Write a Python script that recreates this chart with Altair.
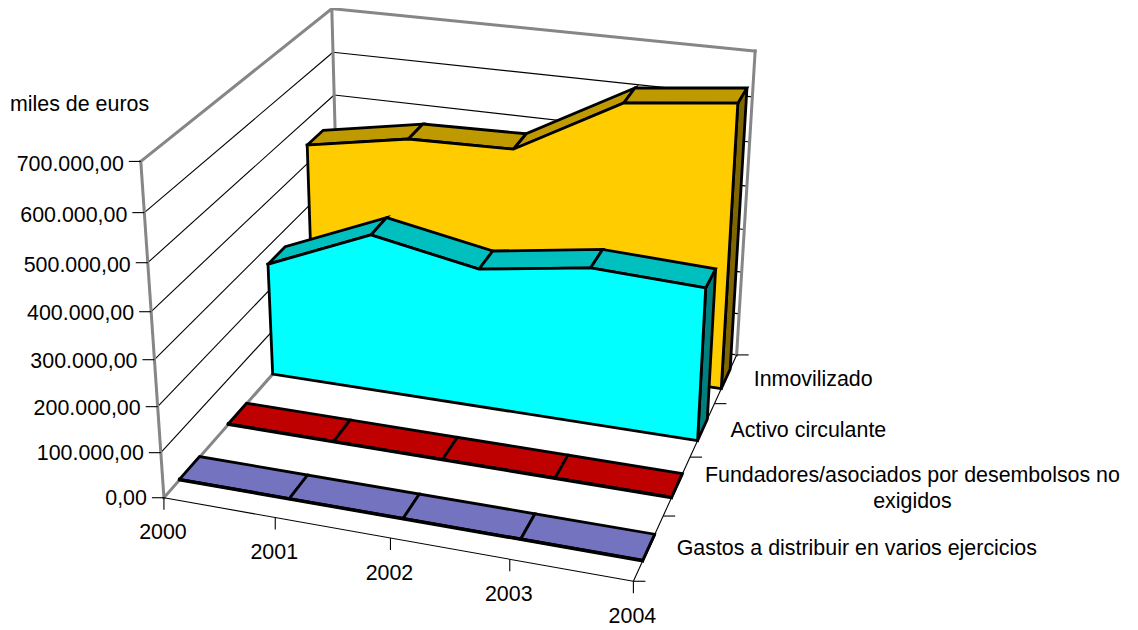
import altair as alt
import numpy as np
import pandas as pd

# ---- chart values (thousands of euros) ----
years = ["2000", "2001", "2002", "2003", "2004"]
series_names = ["Gastos a distribuir en varios ejercicios",
                "Fundadores/asociados por desembolsos no",
                "Activo circulante", "Inmovilizado"]
gastos = [1.5, 1.5, 1.5, 1.5, 1.5]
fundadores = [1.5, 1.5, 1.5, 1.5, 1.5]
activo = [261, 360, 316, 352, 342]
inmovilizado = [442, 484, 489, 618, 644]
value_ticks = [0, 100, 200, 300, 400, 500, 600, 700]
value_labels = ["0,00", "100.000,00", "200.000,00", "300.000,00",
                "400.000,00", "500.000,00", "600.000,00", "700.000,00"]

front_colors = ["#7373BF", "#BF0000", "#00FFFF", "#FFCC00"]
top_colors = ["#7373BF", "#BF0000", "#00BFBF", "#BF9900"]
side_colors = ["#3A3A60", "#600000", "#007F7F", "#7F6600"]

# ---- 3D view of the original chart: (year, depth, value) -> page pixels ----
CAMERA = np.array([[426.73379, 243.70634, -33.24336, 163.92473],
                   [44.32907, -140.05687, -347.89284, 497.72488],
                   [-0.06747, 0.20014, -0.0718, 1.0]])
VMAX = 700.0
FONT = "Liberation Sans"
FS = 21.4


def proj(t, d, v):
    h = CAMERA @ np.array([t, d, v / VMAX, 1.0])
    return float(h[0] / h[2]), float(h[1] / h[2])


x_enc = alt.X("x:Q", scale=alt.Scale(domain=[8, 1130]), axis=None)
y_enc = alt.Y("y:Q", scale=alt.Scale(domain=[630, 8]), axis=None)


def path(points, closed=False, **style):
    pts = list(points) + ([points[0]] if closed else [])
    df = pd.DataFrame({"x": [p[0] for p in pts], "y": [p[1] for p in pts],
                       "seq": range(len(pts))})
    return alt.Chart(df).mark_line(**style).encode(x=x_enc, y=y_enc, order="seq:Q")


def poly(points, fill):
    return path(points, closed=True, fill=fill, stroke="black", strokeWidth=2.8,
                strokeJoin="miter", strokeCap="square")


def thin(a, b):
    return path([a, b], stroke="black", strokeWidth=1.1)


def wall(a, b):
    return path([a, b], stroke="#868686", strokeWidth=3, strokeCap="square")


layers = []

# wall gridlines
for v in value_ticks:
    layers.append(thin(proj(0, 0, v), proj(0, 1, v)))
    layers.append(thin(proj(0, 1, v), proj(1, 1, v)))
# wall outline
layers.append(wall(proj(0, 0, 0), proj(0, 0, VMAX)))
layers.append(wall(proj(0, 0, VMAX), proj(0, 1, VMAX)))
layers.append(wall(proj(0, 1, VMAX), proj(1, 1, VMAX)))
layers.append(wall(proj(0, 1, 0), proj(0, 1, VMAX)))
layers.append(wall(proj(1, 1, 0), proj(1, 1, VMAX)))
layers.append(wall(proj(0, 0, 0), proj(0, 1, 0)))

# floor edges and ticks
layers.append(thin(proj(0, 0, 0), proj(1, 0, 0)))
layers.append(thin(proj(1, 0, 0), proj(1, 1, 0)))
for i in range(len(years)):
    x, y = proj(i / 4, 0, 0)
    layers.append(thin((x, y), (x, y + 12)))
for j in range(5):
    x, y = proj(1, j / 4, 0)
    layers.append(thin((x, y), (x + 12, y)))
for v in value_ticks:
    x, y = proj(0, 0, v)
    layers.append(thin((x, y), (x - 12, y)))

# series, back to front
all_series = [gastos, fundadores, activo, inmovilizado]
for k in [3, 2, 1, 0]:
    vals = all_series[k]
    d0, d1 = 0.25 * k + 0.075, 0.25 * k + 0.175
    n = len(vals)
    ts = [i / (n - 1) for i in range(n)]
    layers.append(poly([proj(1, d0, vals[-1]), proj(1, d1, vals[-1]),
                        proj(1, d1, 0), proj(1, d0, 0)], side_colors[k]))
    for i in range(n - 1):
        layers.append(poly([proj(ts[i], d0, vals[i]), proj(ts[i + 1], d0, vals[i + 1]),
                            proj(ts[i + 1], d1, vals[i + 1]), proj(ts[i], d1, vals[i])],
                           top_colors[k]))
    layers.append(poly([proj(t, d0, v) for t, v in zip(ts, vals)]
                       + [proj(1, d0, 0), proj(0, d0, 0)], front_colors[k]))


def text(rows, align):
    df = pd.DataFrame(rows, columns=["x", "y", "label"])
    return alt.Chart(df).mark_text(font=FONT, fontSize=FS, align=align, baseline="middle",
                                   color="black").encode(x=x_enc, y=y_enc, text="label:N")


val_rows = []
for v, lab in zip(value_ticks, value_labels):
    x, y = proj(0, 0, v)
    val_rows.append((x - 17, y + 1.5 + v / 350, lab))
layers.append(text(val_rows, "right"))

year_rows = []
for i, lab in enumerate(years):
    x, y = proj(i / 4, 0, 0)
    year_rows.append((x - 1, y + 35.5, lab))
layers.append(text(year_rows, "center"))

ser_rows = []
for k in [0, 2, 3]:
    x, y = proj(1, 0.25 * k + 0.125, 0)
    ser_rows.append((x + 28, y + 1.5, series_names[k]))
layers.append(text(ser_rows, "left"))

x, y = proj(1, 0.375, 0)
layers.append(text([(x + 235.5, y - 10, series_names[1]), (x + 235.5, y + 16, "exigidos")], "center"))
layers.append(text([(10, 105, "miles de euros")], "left"))

chart = alt.layer(*layers).properties(
    width=1122, height=622, padding=0,
    autosize=alt.AutoSizeParams(type="none"),
).configure_view(stroke=None)

chart.save("out.html", embed_options={"renderer": "svg", "actions": False})
